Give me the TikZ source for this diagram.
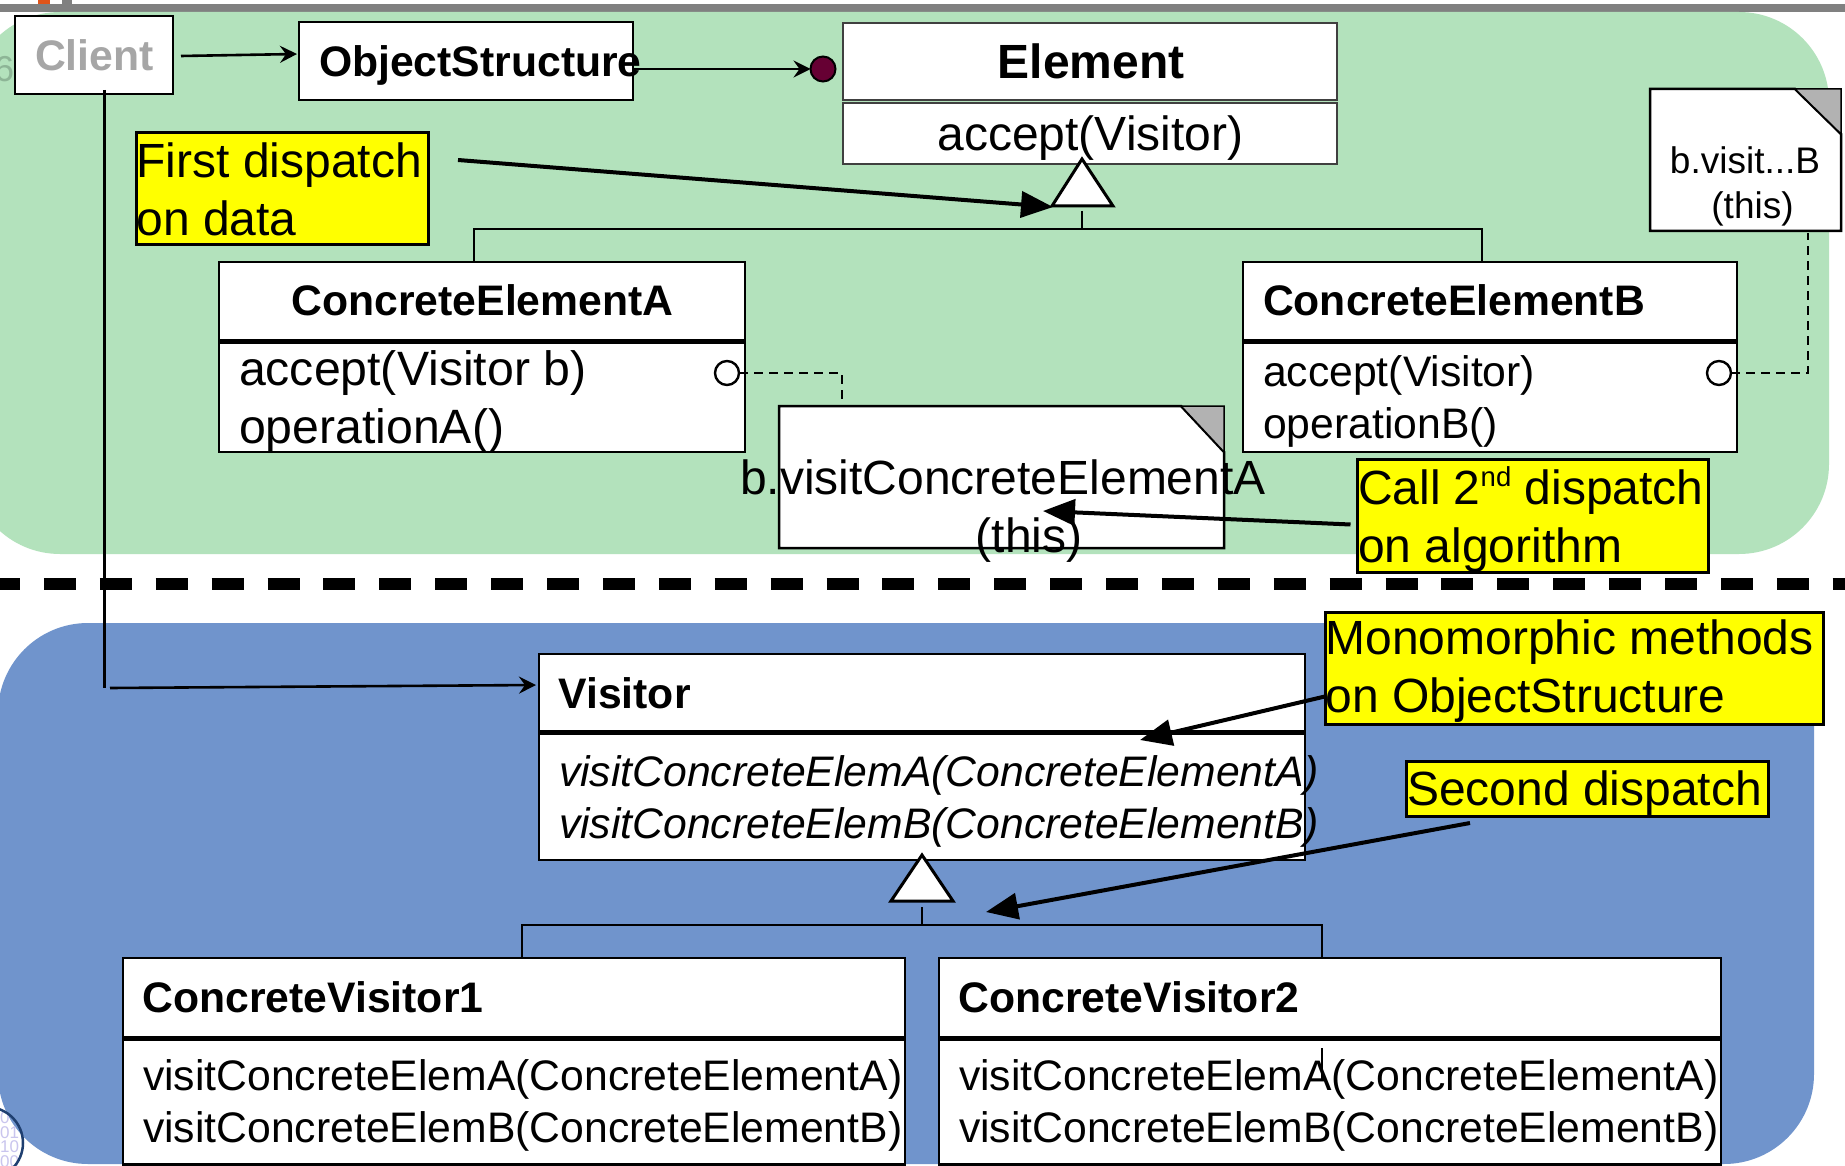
\documentclass[tikz,border=0pt]{standalone}
\usepackage{fontspec}
\setmainfont{Liberation Sans}
\usetikzlibrary{arrows.meta,calc}
\definecolor{greenbg}{HTML}{B3E2BC}
\definecolor{bluebg}{HTML}{7094CC}
\definecolor{topbar}{HTML}{808080}
\definecolor{foldgrey}{HTML}{B2B2B2}
\definecolor{dotred}{HTML}{660033}
\definecolor{digit}{HTML}{C9C5EE}
\definecolor{logoring}{HTML}{1F3F70}
\definecolor{sixcol}{HTML}{8DB596}
\definecolor{calloutyellow}{HTML}{FFFF00}
\definecolor{orangetab}{HTML}{E0541A}
\newcommand{\fsA}{\fontsize{48}{58}\selectfont}
\newcommand{\fsB}{\fontsize{42.7}{52}\selectfont}
\newcommand{\fsC}{\fontsize{37}{45}\selectfont}
\tikzset{
  x=1pt,y=-1pt,
  umlbox/.style={draw=black,fill=white,line width=2.6pt,inner sep=0pt,outer sep=0pt,anchor=north west},
  thinbox/.style={umlbox,line width=1.2pt,draw=black!75},
  callout/.style={draw=black,fill=calloutyellow,line width=3pt,inner sep=0pt,outer sep=0pt,anchor=north west},
  big/.style={inner sep=0pt,outer sep=0pt,font=\fsA,align=left},
  mid/.style={inner sep=0pt,outer sep=0pt,font=\fsB,align=left},
  bold/.style={inner sep=0pt,outer sep=0pt,font=\fsB\bfseries},
  openarrow/.style={line width=2.6pt,-{Stealth[length=17pt,width=17pt,inset=6pt]}},
  solidarrow/.style={line width=4pt,-{Triangle[length=32pt,width=26pt]}},
  conn/.style={line width=2.8pt},
  thinconn/.style={line width=2.4pt},
  dashconn/.style={line width=2.6pt,dash pattern=on 9pt off 6pt},
  inherit/.style={draw=black,fill=white,line width=3pt,line join=miter},
  opcircle/.style={circle,draw=black,fill=white,line width=2.4pt,minimum size=24pt,inner sep=0pt,outer sep=0pt},
}
\begin{document}
\begin{tikzpicture}
\path[use as bounding box,clip] (0,0) rectangle (1845,1166);
\fill[white] (0,0) rectangle (1845,1166);
% slide furniture
\fill[topbar] (0,4) rectangle (1845,12);
\fill[orangetab] (38,0) rectangle (50,4);
\fill[topbar] (62,0) rectangle (72,4);
% backgrounds
\fill[greenbg,rounded corners=90pt] (-30,12) rectangle (1829,554);
\fill[bluebg,rounded corners=90pt] (-2,623) rectangle (1814,1164);
\node[anchor=base west,inner sep=0pt,text=sixcol,font=\fontsize{36}{36}\selectfont] (pagenum) at (-6,82) {6};
\node[anchor=base west,inner sep=0pt,text=digit,font=\fontsize{17}{14.5}\selectfont,align=left] (digits) at (0,1167) {0\\01\\10\\00};
\draw[logoring,line width=2.5pt] (-13,1143) circle (36);
% dashed divider
\coordinate (divL) at (0,584.3);
\coordinate (divR) at (1845,584.3);
\draw[line width=12pt,dash pattern=on 32pt off 23.9pt,dash phase=12pt] (divL) -- (divR);
% top row
\node[umlbox,minimum width=158pt,minimum height=78pt] (client) at (15,16) {};
\node[anchor=base west,bold,text=black!35] (clientT) at (35,71) {Client};
\node[umlbox,minimum width=334pt,minimum height=78pt] (os) at (299,22) {};
\node[anchor=base west,bold] (osT) at (319,77) {ObjectStructure};
\node[thinbox,minimum width=494pt,minimum height=77pt] (elemH) at (843,23) {};
\node[anchor=base,inner sep=0pt,font=\fsA\bfseries] (elemT) at (1091,79) {Element};
\node[thinbox,minimum width=494pt,minimum height=61pt] (elemB) at (843,103) {};
\node[anchor=base,inner sep=0pt,font=\fsA] (elemO) at (1090.5,151) {accept(Visitor)};
\node[circle,draw=black,fill=dotred,line width=2pt,minimum size=25pt,inner sep=0pt,outer sep=0pt] (dot) at (823,69) {};
\draw[openarrow] ([shift={(8,1)}]client.east) -- ([shift={(-2,-7)}]os.west);
\draw[openarrow] ([shift={(0,8)}]os.east) -- (dot.west);
% element inheritance
\coordinate (inhApex) at (1082,159);
\coordinate (inhL) at (1052,206);
\coordinate (inhR) at (1113,206);
\path[inherit,draw] (inhApex) -- (inhR) -- (inhL) -- cycle;
\coordinate (stubT) at (1082,211);
\coordinate (busE) at (1082,229);
\node[umlbox,minimum width=526pt,minimum height=78pt] (ceaH) at (219,262) {};
\node[umlbox,minimum width=526pt,minimum height=109.5pt] (ceaB) at (219,342.5) {};
\node[umlbox,minimum width=494pt,minimum height=78pt] (cebH) at (1243,262) {};
\node[umlbox,minimum width=494pt,minimum height=109.5pt] (cebB) at (1243,342.5) {};
\node[anchor=base west,bold] (ceaT) at (291.5,316) {ConcreteElementA};
\node[anchor=base west,bold] (cebT) at (1263,316) {ConcreteElementB};
\coordinate (ceaTop) at (474,262);
\coordinate (cebTop) at (1482,262);
\draw[conn] (stubT) -- (busE);
\draw[conn] (ceaTop) |- (busE) -| (cebTop);
% first callout
\node[callout,minimum width=292pt,minimum height=112pt] (first) at (136,133) {};
\node[anchor=base west,big] (firstT) at (136.5,236) {First dispatch\\on data};
% operations
\node[anchor=base west,big,font=\fontsize{48.2}{58}\selectfont] (ceaO) at (239,443) {accept(Visitor b)\\operationA()};
\node[anchor=base west,mid] (cebO) at (1263,438) {accept(Visitor)\\operationB()};
\node[opcircle] (circA) at (727,373) {};
\node[opcircle] (circB) at (1719,373) {};
% note A
\path[draw=black,fill=white,line width=2.5pt] (779,406) -- (1181,406) -- (1224,452) -- (1224,548) -- (779,548) -- cycle;
\path[draw=black,fill=foldgrey,line width=1.5pt] (1181,406) -- (1224,406) -- (1224,452) -- cycle;
\coordinate (noteAtop) at (842,405);
\coordinate (noteAcorner) at (842,373);
\draw[dashconn] (circA.east) -- (noteAcorner) -- (noteAtop);
\node[anchor=base,big,align=center] (noteAT) at (1003,552) {b.visitConcreteElementA\\\hspace*{52pt}(this)};
% note B
\path[draw=black,fill=white,line width=2.5pt] (1650,89) -- (1795,89) -- (1841,134) -- (1841,231) -- (1650,231) -- cycle;
\path[draw=black,fill=foldgrey,line width=1.5pt] (1795,89) -- (1841,89) -- (1841,134) -- cycle;
\coordinate (noteBbot) at (1808,233);
\coordinate (noteBcorner) at (1808,373);
\draw[dashconn] (circB.east) -- (noteBcorner) -- (noteBbot);
\node[anchor=base,inner sep=0pt,font=\fsC,align=center] (noteBT) at (1745,219) {b.visit...B\\\hspace*{15pt}(this)};
% call callout
\node[callout,minimum width=351pt,minimum height=113pt] (call) at (1357.5,459) {};
\node[anchor=base west,big] (callT) at (1358,562) {Call 2\raisebox{18pt}{\fontsize{27.5}{27.5}\selectfont nd} dispatch\\on algorithm};
% visitor
\node[umlbox,minimum width=766pt,minimum height=77.5pt] (visH) at (539,654) {};
\node[umlbox,minimum width=766pt,minimum height=126pt] (visB) at (539,734) {};
\node[anchor=base west,bold] (visT) at (558.5,708) {Visitor};
\node[anchor=base west,mid,font=\fsB\itshape] (visO) at (559,838) {visitConcreteElemA(ConcreteElementA)\\visitConcreteElemB(ConcreteElementB)};
\coordinate (vinhApex) at (922,855);
\coordinate (vinhL) at (891,901);
\coordinate (vinhR) at (953,901);
\path[inherit,draw] (vinhApex) -- (vinhR) -- (vinhL) -- cycle;
\coordinate (vstubT) at (922,907);
\coordinate (vbus) at (922,925);
% concrete visitors
\node[umlbox,minimum width=782pt,minimum height=79pt] (cv1H) at (123,958) {};
\node[umlbox,minimum width=782pt,minimum height=125pt] (cv1B) at (123,1039.5) {};
\node[umlbox,minimum width=782pt,minimum height=79pt] (cv2H) at (939,958) {};
\node[umlbox,minimum width=782pt,minimum height=125pt] (cv2B) at (939,1039.5) {};
\node[anchor=base west,bold] (cv1T) at (142.5,1012) {ConcreteVisitor1};
\node[anchor=base west,bold] (cv2T) at (958.5,1012) {ConcreteVisitor2};
\node[anchor=base west,mid] (cv1O) at (143,1142) {visitConcreteElemA(ConcreteElementA)\\visitConcreteElemB(ConcreteElementB)};
\node[anchor=base west,mid] (cv2O) at (959,1142) {visitConcreteElemA(ConcreteElementA)\\visitConcreteElemB(ConcreteElementB)};
\coordinate (cv1Top) at (522,958);
\coordinate (cv2Top) at (1322,958);
\draw[conn] (vstubT) -- (vbus);
\draw[conn] (cv1Top) |- (vbus) -| (cv2Top);
\coordinate (caretT) at (1322,1048);
\coordinate (caretB) at (1322,1081);
\draw[line width=1.2pt] (caretT) -- (caretB);
% client to visitor
\coordinate (clientDown) at (104.5,688);
\coordinate (clientStart) at (110,688);
\coordinate (visIn) at (536,685);
\draw[thinconn] ([shift={(10.5,-4)}]client.south) -- (clientDown);
\draw[openarrow] (clientStart) -- (visIn);
% callouts lower
\node[callout,minimum width=498pt,minimum height=112pt] (mono) at (1325,612) {};
\node[anchor=base west,big] (monoT) at (1325.5,712) {Monomorphic methods\\on ObjectStructure};
\node[callout,minimum width=362pt,minimum height=55pt] (second) at (1406,761) {};
\node[anchor=base west,big] (secondT) at (1407,805) {Second dispatch};
% annotation arrows
\coordinate (firstFrom) at (458,160);
\coordinate (firstTo) at (1053,207);
\draw[solidarrow] (firstFrom) -- (firstTo);
\coordinate (callTo) at (1043,511);
\draw[solidarrow] ([shift={(-7,9)}]call.west) -- (callTo);
\coordinate (monoFrom) at (1327,696);
\coordinate (monoTo) at (1140,740);
\draw[solidarrow] (monoFrom) -- (monoTo);
\coordinate (secFrom) at (1470,823);
\coordinate (secTo) at (986,912);
\draw[solidarrow] (secFrom) -- (secTo);
\end{tikzpicture}
\end{document}
